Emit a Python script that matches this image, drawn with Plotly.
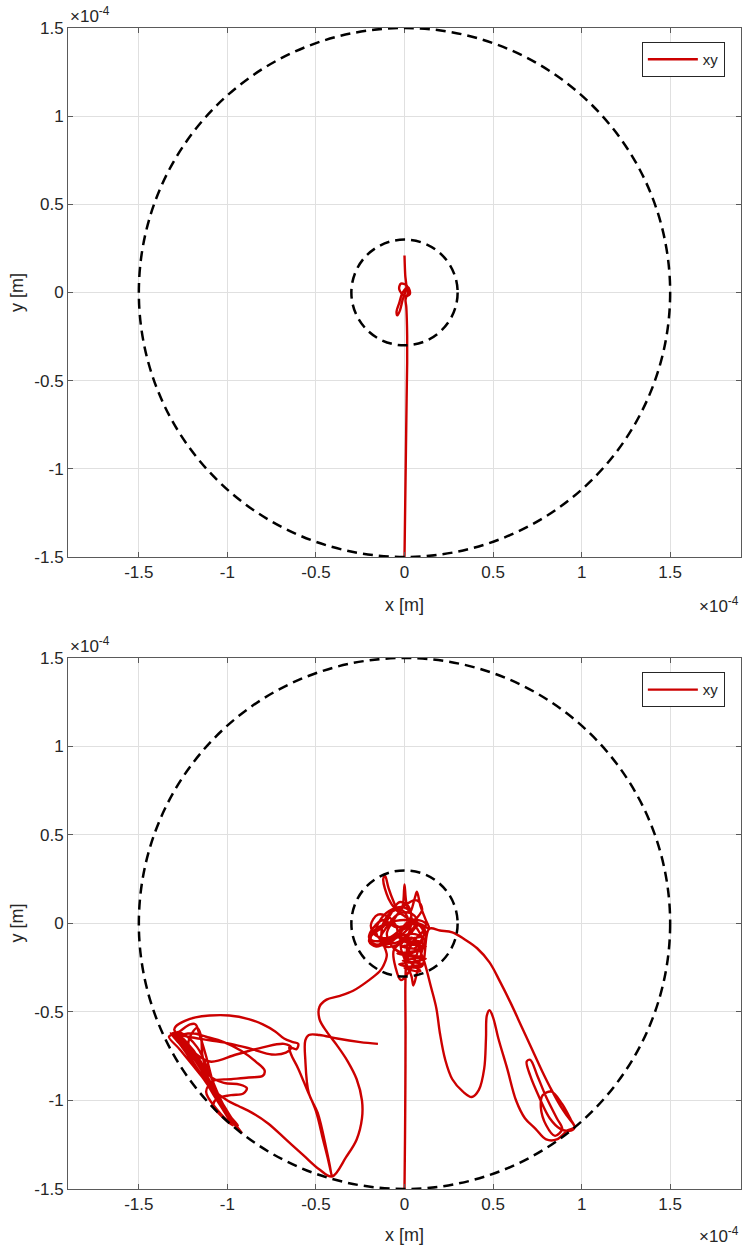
import plotly.graph_objects as go

# ---- trajectory data (units of 1e-4 m) ----
# upper run: nearly straight climb, small knot at the centre
top_x = [0.0, 0.004, 0.008, 0.012, 0.015, 0.015, 0.013, 0.01, 0.006, 0.02, 0.012,
         -0.02, -0.03, 0.0, 0.03, 0.02, -0.01, -0.03, -0.045, -0.04, -0.025, -0.01,
         0.01, 0.004, 0.0]
top_y = [-1.5, -1.2, -0.9, -0.6, -0.4, -0.25, -0.15, -0.08, -0.04, 0.0, 0.04,
         0.05, 0.02, -0.02, -0.01, 0.03, 0.0, -0.06, -0.11, -0.13, -0.1, -0.04,
         0.02, 0.1, 0.21]

# lower run, split into its pieces
rise_x = [0.0, 0.003, 0.005, 0.006, 0.005, 0.01, 0.02]
rise_y = [-1.5, -1.2, -0.9, -0.6, -0.35, -0.2, -0.08]

knot1_x = [0.04, 0.02, -0.03, -0.08, -0.12, -0.18, -0.2, -0.16, -0.08, 0.0, 0.06, 0.1,
           0.07, 0.0, -0.06, -0.1, -0.06, 0.02, 0.1, 0.12, 0.08, 0.0, -0.1, -0.17,
           -0.19, -0.14, -0.05, 0.03, 0.1]
knot1_y = [0.02, 0.1, 0.12, 0.05, -0.02, -0.06, -0.1, -0.13, -0.1, -0.05, 0.02, 0.08,
           0.13, 0.1, 0.02, -0.06, -0.14, -0.17, -0.13, -0.05, 0.0, 0.02, 0.0, -0.04,
           -0.09, -0.1, -0.07, -0.1, -0.1]

spike_x = [0.05, -0.05, -0.09, -0.12, -0.11, -0.09, -0.06, -0.03, -0.01, 0.0, 0.01,
           0.03, 0.06, 0.07, 0.09, 0.12, 0.14]
spike_y = [0.0, 0.08, 0.14, 0.25, 0.27, 0.2, 0.12, 0.06, 0.1, 0.22, 0.12,
           0.06, 0.15, 0.18, 0.1, 0.02, -0.03]

knot3_x = [0.08, -0.05, -0.12, -0.18, -0.2, -0.17, -0.1, -0.04, -0.08, -0.15, -0.19,
           -0.16, -0.09, -0.02, 0.04, 0.0, -0.07, -0.13, -0.16, -0.12, -0.05, 0.02,
           0.07, 0.03, -0.04, -0.1, -0.14, -0.11, -0.04, 0.03, 0.08, 0.11, 0.06]
knot3_y = [0.0, -0.02, 0.02, -0.03, -0.08, -0.12, -0.1, -0.05, 0.03, 0.05, -0.01,
           -0.07, -0.08, -0.03, 0.05, 0.09, 0.08, 0.03, -0.05, -0.1, -0.11, -0.06,
           0.02, 0.06, 0.05, -0.02, -0.09, -0.13, -0.12, -0.06, -0.01, -0.06, -0.14]

lobes_x = [0.1, 0.0, -0.06, -0.05, -0.02, 0.02, 0.06, 0.08, 0.04, -0.02, 0.0, 0.04,
           0.05, 0.07, 0.1, 0.12, 0.06, -0.03, 0.05, 0.12, 0.04, -0.04, 0.06, 0.12,
           0.03, -0.03, 0.07, 0.1, 0.14]
lobes_y = [-0.08, -0.1, -0.15, -0.25, -0.32, -0.28, -0.2, -0.12, -0.08, -0.12, -0.2,
           -0.3, -0.35, -0.28, -0.15, -0.1, -0.06, -0.08, -0.12, -0.13, -0.16, -0.17,
           -0.19, -0.2, -0.22, -0.23, -0.25, -0.24, -0.03]

right_x = [0.2, 0.27, 0.34, 0.41, 0.48, 0.54, 0.6, 0.66, 0.72, 0.78, 0.83, 0.88,
           0.92, 0.96, 0.94, 0.88, 0.82, 0.76, 0.71, 0.69, 0.71, 0.75, 0.8, 0.86,
           0.89, 0.85, 0.8, 0.77, 0.78, 0.83, 0.89, 0.94, 0.96, 0.92, 0.86, 0.8, 0.74]
right_y = [-0.04, -0.05, -0.09, -0.14, -0.22, -0.33, -0.45, -0.58, -0.71, -0.84,
           -0.94, -1.03, -1.09, -1.15, -1.17, -1.16, -1.1, -0.98, -0.86, -0.78, -0.77,
           -0.86, -0.98, -1.1, -1.16, -1.2, -1.14, -1.04, -0.97, -0.95, -1.02, -1.11,
           -1.15, -1.17, -1.22, -1.22, -1.16]

back_x = [0.68, 0.63, 0.58, 0.53, 0.5, 0.48, 0.465, 0.46, 0.45, 0.42, 0.38, 0.33,
          0.27, 0.23, 0.2, 0.18, 0.15, 0.11, 0.07]
back_y = [-1.1, -1.0, -0.82, -0.65, -0.53, -0.49, -0.52, -0.65, -0.82, -0.94, -0.98,
          -0.95, -0.88, -0.77, -0.62, -0.48, -0.36, -0.21, -0.1]

ladder_x = [0.1, -0.02, 0.09, -0.03, 0.1, -0.01, 0.11, 0.0, 0.09, 0.02, 0.05, 0.1,
            0.12, 0.04]
ladder_y = [-0.11, -0.13, -0.15, -0.17, -0.19, -0.21, -0.23, -0.25, -0.27, -0.2,
            -0.1, -0.05, 0.0, 0.02]

knot2_x = [0.0, -0.08, -0.15, -0.2, -0.18, -0.1, -0.03, 0.02, -0.02, -0.08, -0.12,
           -0.13, -0.1, -0.12]
knot2_y = [-0.03, 0.0, -0.03, -0.07, -0.11, -0.12, -0.06, 0.02, 0.08, 0.06, 0.0,
           -0.08, -0.18, -0.24]

down_x = [-0.14, -0.2, -0.29, -0.37, -0.44, -0.48, -0.48, -0.44, -0.38, -0.32, -0.27,
          -0.24, -0.24, -0.27, -0.33, -0.41, -0.48, -0.57, -0.67, -0.77, -0.86, -0.94,
          -1.0]
down_y = [-0.27, -0.32, -0.38, -0.41, -0.43, -0.47, -0.54, -0.61, -0.69, -0.78, -0.88,
          -1.0, -1.1, -1.22, -1.32, -1.43, -1.39, -1.31, -1.22, -1.13, -1.07, -1.03,
          -1.0]

wall_x = [-1.08, -1.18, -1.27, -1.33, -1.3, -1.22, -1.14, -1.07, -1.0, -0.95, -0.98,
          -1.06, -1.12, -1.18, -1.25, -1.28, -1.2, -1.12, -1.02, -0.92, -0.84, -0.79,
          -0.8, -0.88, -0.98, -1.08, -1.12, -1.06, -0.98, -1.02, -1.1, -1.16, -1.22,
          -1.2, -1.17, -1.15, -1.14, -1.1, -1.02, -0.93, -0.89, -0.91, -0.98, -1.06,
          -1.08, -1.02, -0.97, -1.03, -1.1, -1.15, -1.24, -1.29, -1.27, -1.21, -1.18,
          -1.16, -1.12, -1.08, -1.03, -0.96, -0.92, -0.97, -1.04, -1.1, -1.17, -1.26,
          -1.31]
wall_y = [-0.94, -0.82, -0.71, -0.64, -0.63, -0.72, -0.84, -0.97, -1.08, -1.15, -1.1,
          -0.98, -0.86, -0.76, -0.66, -0.64, -0.62, -0.64, -0.67, -0.72, -0.78, -0.83,
          -0.86, -0.87, -0.88, -0.89, -0.95, -1.05, -1.13, -1.06, -0.93, -0.8, -0.68,
          -0.62, -0.59, -0.63, -0.75, -0.86, -0.9, -0.91, -0.93, -0.96, -0.97, -0.99,
          -1.03, -1.1, -1.14, -1.04, -0.9, -0.78, -0.66, -0.62, -0.61, -0.57, -0.57,
          -0.62, -0.75, -0.9, -1.02, -1.13, -1.18, -1.12, -0.99, -0.85, -0.7, -0.62,
          -0.62]

reach_x = [-1.22, -1.1, -0.98, -0.86, -0.75, -0.67, -0.64, -0.68, -0.8, -0.95, -1.1,
           -1.22, -1.29]
reach_y = [-0.64, -0.66, -0.68, -0.71, -0.74, -0.73, -0.7, -0.68, -0.7, -0.74, -0.78,
           -0.7, -0.62]

wall2_x = [-1.22, -1.15, -1.08, -1.0, -0.94, -0.99, -1.07, -1.14, -1.2, -1.27, -1.32,
           -1.25, -1.17, -1.1, -1.03, -0.97, -1.05, -1.15, -1.25, -1.3]
wall2_y = [-0.74, -0.85, -0.95, -1.07, -1.14, -1.09, -0.97, -0.87, -0.78, -0.68,
           -0.62, -0.68, -0.79, -0.9, -1.02, -1.11, -0.98, -0.8, -0.66, -0.6]

arc_x = [-1.29, -1.24, -1.18, -1.1, -0.99, -0.88, -0.8, -0.73, -0.68, -0.63, -0.6,
         -0.61, -0.65, -0.64, -0.6, -0.55, -0.5, -0.46, -0.43, -0.41]
arc_y = [-0.58, -0.55, -0.53, -0.52, -0.52, -0.54, -0.57, -0.61, -0.65, -0.67, -0.68,
         -0.71, -0.7, -0.74, -0.82, -0.94, -1.06, -1.22, -1.34, -1.43]

tail_x = [-0.44, -0.49, -0.54, -0.56, -0.56, -0.54, -0.48, -0.38, -0.25, -0.15]
tail_y = [-1.28, -1.07, -0.96, -0.77, -0.66, -0.63, -0.63, -0.65, -0.67, -0.68]

bot_x = (rise_x + knot1_x + spike_x + knot3_x + lobes_x + right_x + back_x + ladder_x
         + knot2_x + down_x + wall_x + reach_x + wall2_x + arc_x + tail_x)
bot_y = (rise_y + knot1_y + spike_y + knot3_y + lobes_y + right_y + back_y + ladder_y
         + knot2_y + down_y + wall_y + reach_y + wall2_y + arc_y + tail_y)

# boundary circles (radii, 1e-4 m)
r_outer = 1.5
r_inner = 0.3

tick_vals = [-1.5, -1, -0.5, 0, 0.5, 1, 1.5]
tick_text = ["-1.5", "-1", "-0.5", "0", "0.5", "1", "1.5"]

RED = "#CC0000"
INK = "#262626"
AXC = "#5a5a5a"
FONT = "Liberation Sans, Arial, sans-serif"

fig = go.Figure()
fig.add_trace(go.Scatter(x=top_x, y=top_y, mode="lines", name="xy",
                         line=dict(color=RED, width=2.4, shape="spline", smoothing=1),
                         xaxis="x", yaxis="y", legend="legend"))
fig.add_trace(go.Scatter(x=bot_x, y=bot_y, mode="lines", name="xy",
                         line=dict(color=RED, width=2.4, shape="spline", smoothing=1),
                         xaxis="x2", yaxis="y2", legend="legend2"))

for xr, yr in (("x", "y"), ("x2", "y2")):
    for r in (r_outer, r_inner):
        fig.add_shape(type="circle", xref=xr, yref=yr, x0=-r, y0=-r, x1=r, y1=r,
                      line=dict(color="black", width=2.5, dash="10px,6px"),
                      layer="above")

axis_common = dict(
    tickvals=tick_vals, ticktext=tick_text, showgrid=True, gridcolor="#e0e0e0",
    gridwidth=1, zeroline=False, showline=True, linecolor=AXC, linewidth=1,
    mirror="ticks", ticks="inside", ticklen=5, tickcolor=AXC,
    tickfont=dict(family=FONT, size=17, color=INK),
)

legend_common = dict(
    xref="paper", yref="paper", xanchor="right", yanchor="top",
    bgcolor="white", bordercolor=INK, borderwidth=1,
    font=dict(family=FONT, size=15, color=INK),
    itemwidth=50, tracegroupgap=0,
)

top_dom = [0.5444, 1.0]
bot_dom = [0.0, 0.4574]

fig.update_layout(
    width=743, height=1249,
    margin=dict(l=68, r=2, t=28, b=60),
    paper_bgcolor="white", plot_bgcolor="white",
    font=dict(family=FONT, size=17, color=INK),
    xaxis=dict(domain=[0, 1], range=[-1.9, 1.9], anchor="y", **axis_common),
    yaxis=dict(domain=top_dom, range=[-1.5, 1.5], anchor="x", **axis_common),
    xaxis2=dict(domain=[0, 1], range=[-1.9, 1.9], anchor="y2", **axis_common),
    yaxis2=dict(domain=bot_dom, range=[-1.5, 1.5], anchor="x2", **axis_common),
    legend=dict(x=0.976, y=0.988, **legend_common),
    legend2=dict(x=0.976, y=0.445, **legend_common),
    showlegend=True,
)

lab_font = dict(family=FONT, size=18, color=INK)
exp_font = dict(family=FONT, size=17, color=INK)
annotations = [
    # axis titles
    dict(text="x [m]", x=0.5, y=0.503, xref="paper", yref="paper",
         showarrow=False, font=lab_font, xanchor="center", yanchor="middle"),
    dict(text="x [m]", x=0.5, y=-0.0396, xref="paper", yref="paper",
         showarrow=False, font=lab_font, xanchor="center", yanchor="middle"),
    dict(text="y [m]", x=-0.0758, y=0.7726, xref="paper", yref="paper", textangle=-90,
         showarrow=False, font=lab_font, xanchor="center", yanchor="middle"),
    dict(text="y [m]", x=-0.0758, y=0.2296, xref="paper", yref="paper", textangle=-90,
         showarrow=False, font=lab_font, xanchor="center", yanchor="middle"),
    # exponent markers
    dict(text="×10<sup>-4</sup>", x=0.0, y=1.0, xref="paper", yref="paper",
         showarrow=False, font=exp_font, xanchor="left", yanchor="bottom"),
    dict(text="×10<sup>-4</sup>", x=0.0, y=0.4574, xref="paper", yref="paper",
         showarrow=False, font=exp_font, xanchor="left", yanchor="bottom"),
    dict(text="×10<sup>-4</sup>", x=1.0, y=0.514, xref="paper", yref="paper",
         showarrow=False, font=exp_font, xanchor="right", yanchor="top"),
    dict(text="×10<sup>-4</sup>", x=1.0, y=-0.028, xref="paper", yref="paper",
         showarrow=False, font=exp_font, xanchor="right", yanchor="top"),
]
fig.update_layout(annotations=annotations)

fig.write_html("out.html")
